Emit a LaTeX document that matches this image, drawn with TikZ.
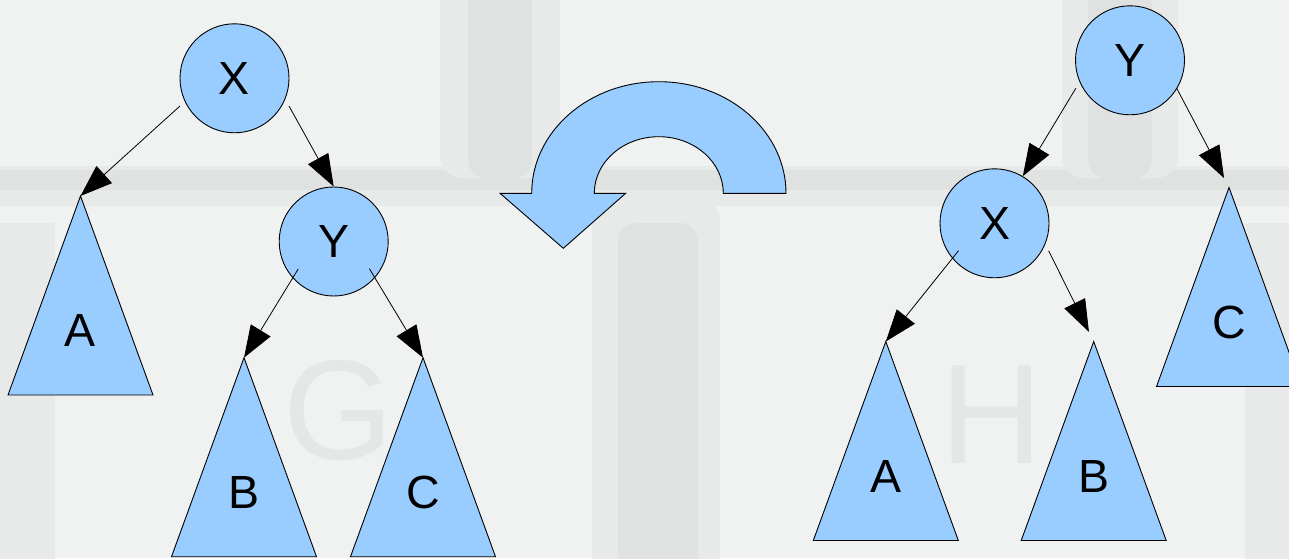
\documentclass[tikz,border=0pt]{standalone}
\usepackage{fontspec}
\setmainfont{Liberation Sans}
\usetikzlibrary{arrows.meta,calc}
\definecolor{shapefill}{HTML}{99CCFF}
\definecolor{keybg}{RGB}{239,242,241}
\definecolor{gapsoft}{RGB}{232,234,233}
\definecolor{gapdark}{RGB}{224,226,225}
\definecolor{keyletter}{RGB}{229,231,230}
\newcommand\mysub[4]{%
  \coordinate (#1) at (#2,#3);
  \path[subtri] (#1) -- ++(72.5,-199) -- ++(-145,0) -- cycle;
  \node[sublabel] (#1l) at ($(#1)+(0,-150.7)$) {#4};
}
\begin{document}
\begin{tikzpicture}[x=1pt,y=1pt,
  treenode/.style={circle,draw=black,fill=shapefill,line width=0.9pt,minimum size=109pt,inner sep=0pt,font=\fontsize{46.5}{50}\selectfont},
  sublabel/.style={anchor=base,inner sep=0pt,font=\fontsize{46.5}{50}\selectfont},
  subtri/.style={draw=black,fill=shapefill,line width=0.9pt},
  conn/.style={draw=black,line width=0.8pt,-{Triangle[length=32pt,width=23pt]}},
  turn/.style={draw=black,fill=shapefill,line width=0.9pt},
  keytext/.style={anchor=base,inner sep=0pt,text=keyletter,font=\fontsize{142}{150}\selectfont}]
\clip (0,0) rectangle (1289,558);
% ---- faded keyboard background ----
\fill[keybg] (0,0) rectangle (1289,558);
\fill[gapsoft] (0,352) rectangle (1289,392);
\fill[gapdark] (0,368) rectangle (1289,388);
\fill[gapsoft,rounded corners=22pt] (440,380) rectangle (560,600);
\fill[gapdark,rounded corners=18pt] (468,380) rectangle (532,600);
\fill[gapsoft,rounded corners=22pt] (1062,380) rectangle (1178,600);
\fill[gapdark,rounded corners=18pt] (1088,380) rectangle (1152,600);
\fill[gapsoft,rounded corners=22pt] (592,-40) rectangle (720,360);
\fill[gapdark,rounded corners=18pt] (618,-40) rectangle (698,335);
\fill[gapsoft] (0,-10) rectangle (55,335);
\fill[gapsoft] (1245,-10) rectangle (1300,335);
\node[keytext] (keyG) at (339,99) {G};
\node[keytext] (keyH) at (992,95) {H};
% ---- left tree (before rotation) ----
\node[treenode] (LX) at (234.5,479.7) {X};
\node[treenode] (LY) at (333.7,316.5) {Y};
\mysub{LA}{80.5}{362}{A}
\mysub{LB}{244}{200.3}{B}
\mysub{LC}{423}{200.3}{C}
\draw[conn] ($(LX)+(-54.5,-27.7)$) -- (LA);
\draw[conn] ($(LX)+(54.5,-27.7)$) -- (LY.north);
\draw[conn] ($(LY)+(-35.5,-27.5)$) -- (LB);
\draw[conn] ($(LY)+(35.7,-27.2)$) -- (LC);
% ---- rotation arrow ----
\draw[turn] (786,364.7) arc[start angle=0,end angle=180,x radius=127.15,y radius=111.6]
  -- (500,364.7) -- (563.3,309.7) -- (625.7,364.7) -- (594.3,364.7)
  arc[start angle=180,end angle=0,x radius=64.5,y radius=56.6] -- cycle;
% ---- right tree (after rotation) ----
\node[treenode] (RY) at (1130,497.7) {Y};
\node[treenode] (RX) at (994.5,334.7) {X};
\mysub{RA}{885.8}{216.5}{A}
\mysub{RB}{1093.7}{216.5}{B}
\mysub{RC}{1229}{370.5}{C}
\draw[conn] ($(RY)+(-54.2,-28)$) -- (RX.59);
\draw[conn,shorten >=10.6pt] ($(RY)+(46.7,-28)$) -- (RC);
\draw[conn] ($(RX)+(-36,-27.4)$) -- (RA);
\draw[conn,shorten >=10.7pt] ($(RX)+(54.1,-27.4)$) -- (RB);
\end{tikzpicture}
\end{document}
